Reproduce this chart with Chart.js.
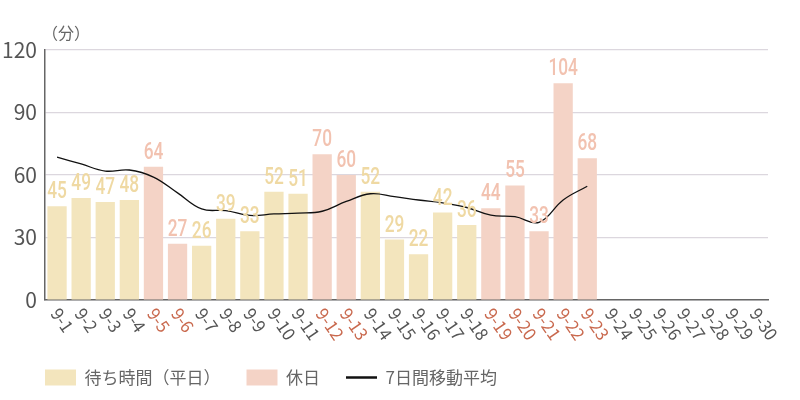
<!DOCTYPE html>
<html lang="ja">
<head>
<meta charset="UTF-8">
<title>待ち時間</title>
<script src="https://cdn.jsdelivr.net/npm/chart.js"></script>
<style>
    body { margin: 0; background: #fff; }
    #wrap { width: 800px; height: 400px; }
</style>
</head>
<body>
<div id="wrap"><canvas id="waitChart" width="800" height="400"></canvas></div>
<script>
// 日付ラベル
const days = ['9-1','9-2','9-3','9-4','9-5','9-6','9-7','9-8','9-9','9-10',
    '9-11','9-12','9-13','9-14','9-15','9-16','9-17','9-18','9-19','9-20',
    '9-21','9-22','9-23','9-24','9-25','9-26','9-27','9-28','9-29','9-30'];
// 休日
const holidays = ['9-5','9-6','9-12','9-13','9-19','9-20','9-21','9-22','9-23'];
// 待ち時間（分）
const waitTimes = [45, 49, 47, 48, 64, 27, 26, 39, 33, 52,
    51, 70, 60, 52, 29, 22, 42, 36, 44, 55,
    33, 104, 68, null, null, null, null, null, null, null];
// 7日間移動平均
const movingAvg = [68.6, 65.3, 61.9, 62.4, 59.0, 51.4, 43.7, 42.9, 40.6, 41.3,
    41.7, 42.6, 47.3, 51.0, 49.6, 48.0, 46.6, 44.4, 40.7, 40.0,
    37.3, 48.0, 54.6];
const yTicks = [0, 30, 60, 90, 120];

const JP = '"Noto Sans CJK JP", "Noto Sans", sans-serif';
const isHoliday = d => holidays.includes(d);

const weekdayData = waitTimes.map((v, i) => isHoliday(days[i]) ? null : v);
const holidayData = waitTimes.map((v, i) => isHoliday(days[i]) ? v : null);

// 値ラベル・日付ラベル・単位
const labelPlugin = {
    id: 'customLabels',
    afterLayout(chart) {
        // 凡例をグラフ左端にそろえる
        chart.legend.left += 19;
    },
    afterDatasetsDraw(chart) {
        const ctx = chart.ctx;
        [0, 1].forEach(di => {
            const meta = chart.getDatasetMeta(di);
            const color = di === 0 ? '#efd9a3' : '#f2c2b0';
            meta.data.forEach((bar, j) => {
                const v = chart.data.datasets[di].data[j];
                if (v == null) return;
                ctx.save();
                ctx.translate(bar.x, bar.y - 2);
                ctx.scale(0.72, 1);
                ctx.font = '500 24px Roboto, sans-serif';
                ctx.fillStyle = color;
                ctx.textAlign = 'center';
                ctx.textBaseline = 'bottom';
                ctx.fillText(String(v), 0, 0);
                ctx.restore();
            });
        });
    },
    afterDraw(chart) {
        const ctx = chart.ctx;
        const xs = chart.scales.x;
        const area = chart.chartArea;
        ctx.save();
        ctx.font = '17px ' + JP;
        ctx.textAlign = 'left';
        ctx.textBaseline = 'middle';
        days.forEach((d, i) => {
            const x = xs.getPixelForValue(i);
            ctx.save();
            ctx.translate(x - 2, area.bottom + 10);
            ctx.rotate(55 * Math.PI / 180);
            ctx.fillStyle = isHoliday(d) ? '#c9694e' : '#555';
            ctx.fillText(d, 0, 0);
            ctx.restore();
        });
        ctx.fillStyle = '#666';
        ctx.font = '16px ' + JP;
        ctx.textBaseline = 'middle';
        ctx.fillText('（分）', area.left - 3, area.top - 17);
        ctx.restore();
    }
};

const ctx = document.getElementById('waitChart').getContext('2d');
new Chart(ctx, {
    data: {
        labels: days,
        datasets: [
            {
                type: 'bar',
                label: '待ち時間（平日）',
                data: weekdayData,
                backgroundColor: '#f3e5bd',
                borderWidth: 0,
                grouped: false,
                barPercentage: 0.8,
                categoryPercentage: 1,
                pointStyle: 'rect',
                order: 2
            },
            {
                type: 'bar',
                label: '休日',
                data: holidayData,
                backgroundColor: '#f4d3c6',
                borderWidth: 0,
                grouped: false,
                barPercentage: 0.8,
                categoryPercentage: 1,
                pointStyle: 'rect',
                order: 1
            },
            {
                type: 'line',
                label: '7日間移動平均',
                data: movingAvg,
                borderColor: '#111',
                backgroundColor: '#111',
                borderWidth: 1.3,
                pointRadius: 0,
                tension: 0.4,
                pointStyle: 'line',
                order: 0
            }
        ]
    },
    options: {
        responsive: false,
        animation: false,
        layout: { padding: { left: 0, right: 32, top: 50, bottom: 4 } },
        scales: {
            x: {
                grid: { display: false, drawTicks: false },
                border: { color: '#666', width: 1.5 },
                ticks: { display: false },
                afterFit(scale) { scale.height = 43; }
            },
            y: {
                min: 0,
                max: 120,
                afterBuildTicks(scale) { scale.ticks = yTicks.map(v => ({ value: v })); },
                grid: { color: '#dcd7de', lineWidth: 1.2, drawTicks: false },
                border: { color: '#666', width: 1.5 },
                ticks: { color: '#555', padding: 8, font: { family: JP, size: 21 } },
                afterFit(scale) { scale.width = 45; }
            }
        },
        plugins: {
            tooltip: { enabled: false },
            legend: {
                position: 'bottom',
                align: 'start',
                labels: {
                    usePointStyle: true,
                    pointStyleWidth: 31,
                    boxHeight: 16,
                    padding: 26,
                    color: '#666',
                    font: { family: JP, size: 17 },
                    sort: (a, b) => a.datasetIndex - b.datasetIndex,
                    generateLabels(chart) {
                        const items = Chart.defaults.plugins.legend.labels.generateLabels(chart);
                        items.forEach(it => {
                            it.lineWidth = it.datasetIndex === 2 ? 2.5 : 0;
                        });
                        return items;
                    }
                }
            }
        }
    },
    plugins: [labelPlugin]
});
</script>
</body>
</html>
